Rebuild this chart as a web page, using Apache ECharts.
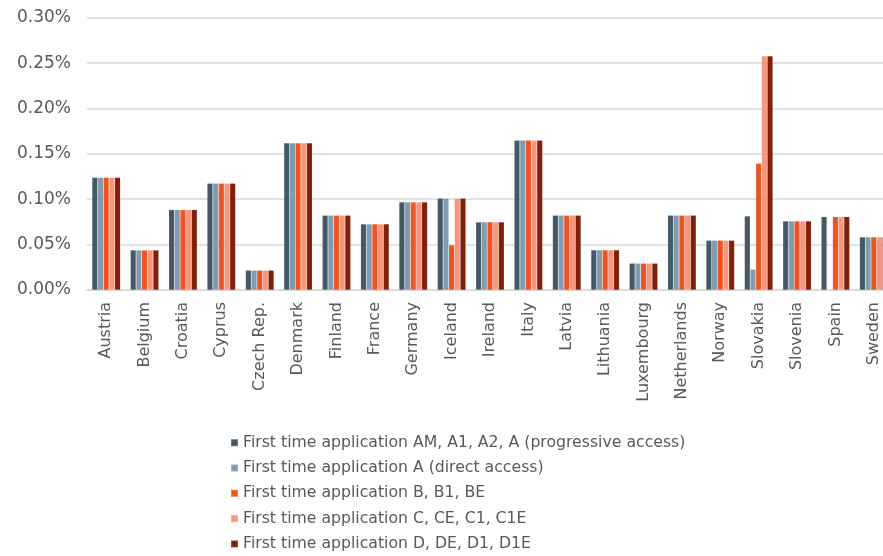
<!DOCTYPE html>
<html>
<head>
<meta charset="utf-8">
<script src="https://cdn.jsdelivr.net/npm/echarts@6/dist/echarts.min.js"></script>
<style>
  html, body { margin: 0; padding: 0; background: #ffffff; overflow: hidden; width: 883px; height: 556px; }
  /* canvas a little wider than the window: the last group runs off the right edge */
  #chart { width: 893px; height: 556px; }
</style>
</head>
<body>
<div id="chart"></div>
<script>
// Countries along the category axis
const countries = ['Austria', 'Belgium', 'Croatia', 'Cyprus', 'Czech Rep.', 'Denmark', 'Finland',
  'France', 'Germany', 'Iceland', 'Ireland', 'Italy', 'Latvia', 'Lithuania', 'Luxembourg',
  'Netherlands', 'Norway', 'Slovakia', 'Slovenia', 'Spain', 'Sweden'];

// Legend names of the five application types
const seriesNames = [
  'First time application AM, A1, A2, A (progressive access)',
  'First time application A (direct access)',
  'First time application B, B1, BE',
  'First time application C, CE, C1, C1E',
  'First time application D, DE, D1, D1E'
];

// Values in percent, one entry per country
const progressiveA = [0.124, 0.044, 0.0885, 0.1175, 0.0217, 0.162, 0.0823, 0.0727, 0.0969, 0.101, 0.0749, 0.165, 0.0823, 0.0441, 0.0294, 0.0823, 0.0547, 0.0815, 0.076, 0.0808, 0.0584];
const directA      = [0.124, 0.044, 0.0885, 0.1175, 0.0217, 0.162, 0.0823, 0.0727, 0.0969, 0.101, 0.0749, 0.165, 0.0823, 0.0441, 0.0294, 0.0823, 0.0547, 0.0228, 0.076, null,   0.0584];
const categoryB    = [0.124, 0.044, 0.0885, 0.1175, 0.0217, 0.162, 0.0823, 0.0727, 0.0969, 0.0496, 0.0749, 0.165, 0.0823, 0.0441, 0.0294, 0.0823, 0.0547, 0.1396, 0.076, 0.0808, 0.0584];
const categoryC    = [0.124, 0.044, 0.0885, 0.1175, 0.0217, 0.162, 0.0823, 0.0727, 0.0969, 0.101, 0.0749, 0.165, 0.0823, 0.0441, 0.0294, 0.0823, 0.0547, 0.2578, 0.076, 0.0808, 0.0584];
const categoryD    = [0.124, 0.044, 0.0885, 0.1175, 0.0217, 0.162, 0.0823, 0.0727, 0.0969, 0.101, 0.0749, 0.165, 0.0823, 0.0441, 0.0294, 0.0823, 0.0547, 0.2578, 0.076, 0.0808, 0.0584];

// Y axis ticks (percent)
const yMin = 0, yMax = 0.30, yStep = 0.05;

const colors = ['#445866', '#809BAE', '#F05323', '#F8957A', '#821F0B'];
const seriesValues = [progressiveA, directA, categoryB, categoryC, categoryD];

const chart = echarts.init(document.getElementById('chart'), null, { renderer: 'canvas' });

chart.setOption({
  animation: false,
  backgroundColor: '#ffffff',
  color: colors,
  grid: { left: 87, right: 0, top: 17.7, bottom: 266, containLabel: false },
  legend: {
    orient: 'vertical',
    left: 230,
    top: 434.7,
    padding: 0,
    itemWidth: 7,
    itemHeight: 7,
    itemGap: 9.3,
    icon: 'rect',
    textStyle: { fontFamily: 'DejaVu Sans', fontSize: 15.7, color: '#595959', lineHeight: 16 },
    data: seriesNames
  },
  xAxis: {
    type: 'category',
    data: countries,
    axisLine: { show: true, lineStyle: { color: '#d9d9d9', width: 1.5 } },
    axisTick: { show: false },
    axisLabel: {
      rotate: 90,
      interval: 0,
      margin: 12,
      fontFamily: 'DejaVu Sans',
      fontSize: 16,
      color: '#595959'
    }
  },
  yAxis: {
    type: 'value',
    min: yMin,
    max: yMax,
    interval: yStep,
    axisLine: { show: false },
    axisTick: { show: false },
    splitLine: { lineStyle: { color: '#d9d9d9', width: 1.5 } },
    axisLabel: {
      margin: 16,
      fontFamily: 'DejaVu Sans',
      fontSize: 17,
      color: '#595959',
      formatter: v => v.toFixed(2) + '%'
    }
  },
  series: seriesNames.map((name, i) => ({
    name: name,
    type: 'bar',
    data: seriesValues[i],
    barGap: '0%',
    barCategoryGap: '26%',
    itemStyle: { color: colors[i], borderColor: 'rgba(255,255,255,0.2)', borderWidth: 0.5 }
  }))
});
</script>
</body>
</html>
